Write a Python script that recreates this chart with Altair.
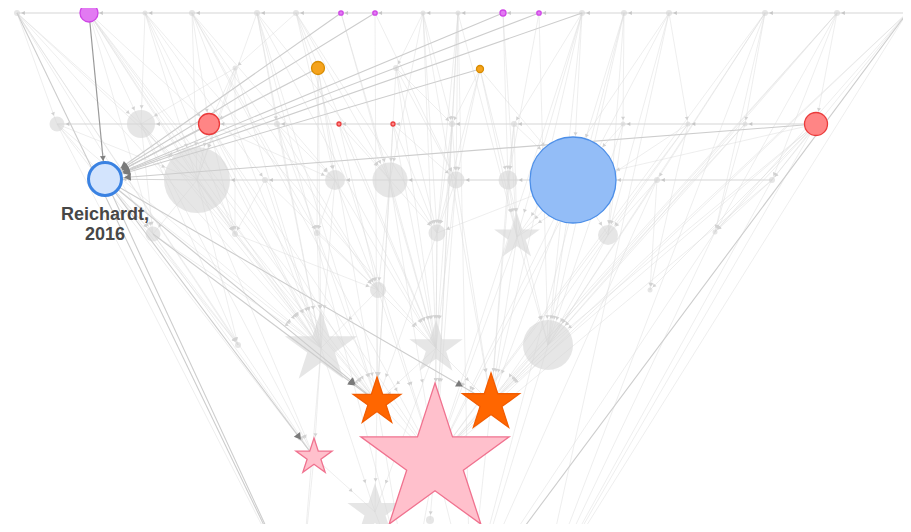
import math
import altair as alt
import pandas as pd

# ---------------- nodes (layout positions) ----------------
node_id = ["n1", "M1", "n2", "n3", "n4", "n5", "M2", "M3", "n6", "n7", "M4", "M5", "n8", "n9", "n10", "n11", "n12", "n13",
           "n14", "O1", "n15", "O2",
           "n16", "n17", "R1", "n18", "R2", "R3", "n19", "n20", "n21", "n22", "n23", "R4",
           "B1", "n24", "n25", "n26", "n27", "n28", "n29", "B2", "n30", "n31",
           "n32", "n33", "n34", "n35", "S1", "n36", "n37",
           "n38", "n39",
           "n40", "S2", "S3", "n41",
           "OS1", "OS2", "PS2", "PS1",
           "S4", "n42",
           "z1", "z2", "z3", "z4"]
node_x = [17, 89, 145, 192, 257, 296, 341, 375, 423, 458, 503, 539, 582, 624, 669, 765, 837, 907,
          235, 318, 396, 480,
          57, 141, 209, 277, 339, 393, 452, 514, 623, 688, 745, 816,
          105, 197, 265, 335, 390, 456, 508, 573, 657, 772,
          153, 235, 317, 437, 517, 608, 715,
          378, 650,
          238, 321, 436, 548,
          377, 491, 314, 435,
          375, 430,
          300, 410, 470, 540]
node_y = [13] * 18 + [68, 68, 68, 69] + [124] * 12 + [179] + [180] * 9 + \
         [234, 234, 233, 233, 237, 235, 232] + [290, 290] + [345, 348, 348, 345] + \
         [402, 403, 457, 461] + [512, 520] + [600, 600, 600, 600]
node_r = [3, 9, 2.5, 3, 3, 3, 2.2, 2.2, 2.5, 2.5, 3, 2.2, 3, 3, 3, 3, 3, 2,
          2.5, 6.5, 3, 3.5,
          7.5, 14, 10.5, 3, 2, 2, 3, 3, 2.5, 2.5, 2.5, 11.5,
          16.5, 33, 3, 10, 17.5, 8.5, 9.5, 43, 3, 3,
          7.5, 3, 3, 8.5, 24, 10, 2.5,
          8, 2.5,
          3, 38, 28, 25,
          25, 30, 19, 78,
          29, 4,
          0, 0, 0, 0]
node_kind = ["gray", "magenta", "gray", "gray", "gray", "gray", "magenta", "magenta", "gray", "gray", "magenta", "magenta",
             "gray", "gray", "gray", "gray", "gray", "gray",
             "gray", "orange", "gray", "orange",
             "gray", "gray", "red", "gray", "red", "red", "gray", "gray", "gray", "gray", "gray", "red",
             "reichardt", "gray", "gray", "gray", "gray", "gray", "gray", "blue", "gray", "gray",
             "gray", "gray", "gray", "gray", "gray", "gray", "gray",
             "gray", "gray",
             "gray", "gray", "gray", "gray",
             "orangestar", "orangestar", "pink", "pink",
             "gray", "gray",
             "hidden", "hidden", "hidden", "hidden"]
star_nodes = ["S1", "S2", "S3", "S4", "OS1", "OS2", "PS1", "PS2"]

label_node = "B1"
label_text = "Reichardt,\n2016"

# ---------------- edges ----------------
top_chain = ["n13", "n12", "n11", "n10", "n9", "n8", "M5", "M4", "n7", "n6", "M3", "M2", "n5", "n4", "n3", "n2", "M1", "n1"]
row3_chain = ["R4", "n23", "n22", "n21", "n20", "n19", "R3", "R2", "n18", "R1", "n17", "n16"]
row4_chain = ["n31", "n30", "B2", "n29", "n28", "n27", "n26", "n25", "n24", "B1"]

key_links = ["M1>B1"]
strong_links = ["M2>B1", "M3>B1", "M4>B1", "M5>B1", "n8>B1", "O1>B1", "O2>B1", "R1>B1", "R4>B1",
                "B1>OS1", "n32>OS1", "B1>OS2", "B1>PS2", "B1>z1", "n1>z1", "n13>z3"]

faint_links = [
    "n1:n16,n17,n24,n32,S2,PS2,n40",
    "M1:n17,R1,n24,n32,n33,S2,PS1,OS1",
    "n2:n17,n24,n25,n33,S2,S3",
    "n3:R1,n24,n26,n34,S2,n38,PS1",
    "n4:n18,n24,n27,S2,S3,OS1,z2",
    "n5:n14,n26,n27,n35,S3,PS1",
    "M2:n27,S3",
    "M3:n28,OS1",
    "n6:n15,n19,n27,n35,S3,OS2",
    "n7:n19,n28,n35,S1,PS1,z3",
    "M4:n29,S1",
    "M5:n29,n41",
    "n8:n20,B2,S1,n41,OS2,PS1",
    "n9:n21,B2,n36,n41,z3",
    "n10:n22,n36,S1,PS1,z4",
    "n11:n23,n30,n37,n41,PS1,z4",
    "n12:R4,n31,n37,n41,PS1,OS2",
    "n13:n31,n37,PS1,z4,OS2",
    "n14:n17,R1,n24,n33,S2",
    "O1:R1,n26,n34,S2,OS1",
    "O2:n19,n28,n29,B2,S1,n35",
    "n15:n19,n27,n28,n35,S3",
    "n16:n24,n32,S2,z1,PS2",
    "n17:n24,n32,n40,S2,PS2,OS1",
    "R1:n24,n26,n33,S2,OS1,PS1",
    "n18:n26,n34,S2,n38",
    "R2:n27,n38,S3",
    "R3:n28,n35,S3,OS1",
    "n19:n28,n35,S3,PS1",
    "n20:n29,B2,S1,OS2",
    "n21:B2,n36,n41",
    "n22:n36,S1,PS1,n39",
    "n23:n37,n41,PS1",
    "R4:B2,n31,n37,n41,OS2,z4,n39",
    "B1:n32,S2,n40",
    "n24:n32,n33,S2,n40,PS2,OS1",
    "n25:n33,S2,n38",
    "n26:n34,S2,n38,S3",
    "n27:n35,S3,n38,OS1,PS1",
    "n28:n35,S3,PS1,OS2",
    "n29:S1,n41,OS2",
    "B2:S1,n36,n41,PS1,OS2,n35",
    "n30:n36,n41,z3,n39",
    "n31:n37,z4,PS1",
    "n32:S2,n40,PS2",
    "n33:S2,n38",
    "n34:S2,n38,OS1",
    "n35:S3,OS1,PS1",
    "S1:n41,OS2,PS1",
    "n36:n41,OS2",
    "n37:z4,z3",
    "n38:S2,S3,OS1,PS1",
    "S2:PS2,OS1,S4,z1",
    "S3:OS1,OS2,PS1,S4",
    "n41:OS2,PS1,z3",
    "OS1:PS1,S4,z2",
    "OS2:PS1,z3",
    "PS2:S4,z1",
    "PS1:z2,z3,n42",
    "S4:z2",
]

# ---------------- build tables ----------------
pos = {i: (x, y, r) for i, x, y, r in zip(node_id, node_x, node_y, node_r)}
arrow_gap = {"faint": 3, "chain": 3, "strong": 6, "key": 4}

edge_rows = []


def add_edge(s, t, group):
    sx, sy, _ = pos[s]
    tx, ty, tr = pos[t]
    dx, dy = tx - sx, ty - sy
    L = math.hypot(dx, dy) or 1.0
    off = tr + arrow_gap[group]
    edge_rows.append({
        "group": group,
        "x": sx, "y": sy, "x2": tx, "y2": ty,
        "ax": tx - dx / L * off, "ay": ty - dy / L * off,
        "angle": (math.degrees(math.atan2(dx, -dy)) + 360) % 360,
    })


for line in faint_links:
    s, ts = line.split(":")
    for t in ts.split(","):
        add_edge(s, t, "faint")
for chain in (top_chain, row3_chain, row4_chain):
    for a, b in zip(chain[:-1], chain[1:]):
        add_edge(a, b, "chain")
for e in strong_links:
    s, t = e.split(">")
    add_edge(s, t, "strong")
for e in key_links:
    s, t = e.split(">")
    add_edge(s, t, "key")

edges = pd.DataFrame(edge_rows)
nodes = pd.DataFrame({"id": node_id, "x": node_x, "y": node_y, "r": node_r, "kind": node_kind})
nodes["size"] = 4 * nodes["r"] ** 2
nodes["star"] = nodes["id"].isin(star_nodes)
nodes = nodes[nodes["kind"] != "hidden"]

xs = alt.Scale(domain=[8, 903], nice=False, zero=False)
ys = alt.Scale(domain=[8, 524], reverse=True, nice=False, zero=False)
X = alt.X("x:Q", scale=xs, axis=None)
Y = alt.Y("y:Q", scale=ys, axis=None)
AX = alt.X("ax:Q", scale=xs, axis=None)
AY = alt.Y("ay:Q", scale=ys, axis=None)

STAR = "M0,-1L0.2245,-0.309L0.951,-0.309L0.363,0.118L0.588,0.809L0,0.382L-0.588,0.809L-0.363,0.118L-0.951,-0.309L-0.2245,-0.309Z"

edge_style = {"faint": ("#dcdcdc", 0.7, 0.7), "chain": ("#d6d6d6", 1.1, 1.0),
              "strong": ("#cdcdcd", 1.1, 1.0), "key": ("#9a9a9a", 1.2, 1.0)}
arrow_style = {"faint": ("#d2d2d2", 16), "chain": ("#c6c6c6", 18),
               "strong": ("#7a7a7a", 60), "key": ("#808080", 34)}


def edge_layer(g):
    c, w, o = edge_style[g]
    return alt.Chart(edges[edges.group == g]).mark_rule(
        color=c, strokeWidth=w, opacity=o, clip=True
    ).encode(x=X, y=Y, x2="x2:Q", y2="y2:Q")


def arrow_layer(g):
    c, s = arrow_style[g]
    return alt.Chart(edges[edges.group == g]).mark_point(
        filled=True, shape="triangle-up", color=c, size=s, opacity=1, clip=True
    ).encode(x=AX, y=AY, angle=alt.Angle("angle:Q", scale=None))


gray_nodes_c = alt.Chart(nodes[(nodes.kind == "gray") & (~nodes.star)]).mark_point(
    filled=True, shape="circle", color="#d6d6d6", opacity=0.6
).encode(x=X, y=Y, size=alt.Size("size:Q", scale=None))
gray_nodes_s = alt.Chart(nodes[(nodes.kind == "gray") & (nodes.star)]).mark_point(
    filled=True, shape=STAR, color="#d6d6d6", opacity=0.6
).encode(x=X, y=Y, size=alt.Size("size:Q", scale=None))

kind_domain = ["magenta", "orange", "red", "blue", "orangestar", "pink"]
fill_range = ["#e27af2", "#f5a31c", "#ff8585", "#93bdf7", "#ff6600", "#ffc0cc"]
stroke_range = ["#cf45e6", "#d88c00", "#ea3b3b", "#4d8fe8", "#f25c00", "#f0728f"]

colored = nodes[~nodes.kind.isin(["gray", "reichardt"])]


def colored_layer(df, shape):
    return alt.Chart(df).mark_point(filled=True, shape=shape, opacity=1, strokeWidth=1.3).encode(
        x=X, y=Y,
        size=alt.Size("size:Q", scale=None),
        fill=alt.Fill("kind:N", scale=alt.Scale(domain=kind_domain, range=fill_range), legend=None),
        stroke=alt.Stroke("kind:N", scale=alt.Scale(domain=kind_domain, range=stroke_range), legend=None),
    )


col_c = colored_layer(colored[~colored.star], "circle")
col_s = colored_layer(colored[colored.star], STAR)

reich = alt.Chart(nodes[nodes.kind == "reichardt"]).mark_point(
    filled=True, shape="circle", opacity=1, fill="#d3e4fd", stroke="#3a82e2", strokeWidth=3
).encode(x=X, y=Y, size=alt.Size("size:Q", scale=None))

label_df = nodes[nodes.id == label_node].assign(label=label_text)
label = alt.Chart(label_df).mark_text(
    font="Liberation Sans", fontSize=18, fontWeight="bold", color="#474747",
    lineBreak="\n", lineHeight=20, baseline="top", align="center", dy=27,
).encode(x=X, y=Y, text="label:N")

chart = alt.layer(
    edge_layer("faint"), gray_nodes_c, gray_nodes_s,
    edge_layer("chain"), edge_layer("strong"), edge_layer("key"),
    arrow_layer("faint"), arrow_layer("chain"), arrow_layer("strong"), arrow_layer("key"),
    col_c, col_s, reich, label
).properties(
    width=895, height=516, padding=0, background="white",
    autosize=alt.AutoSizeParams(type="none"),
).configure_view(stroke=None)

chart.save("out.html", embed_options={"renderer": "svg", "actions": False})
